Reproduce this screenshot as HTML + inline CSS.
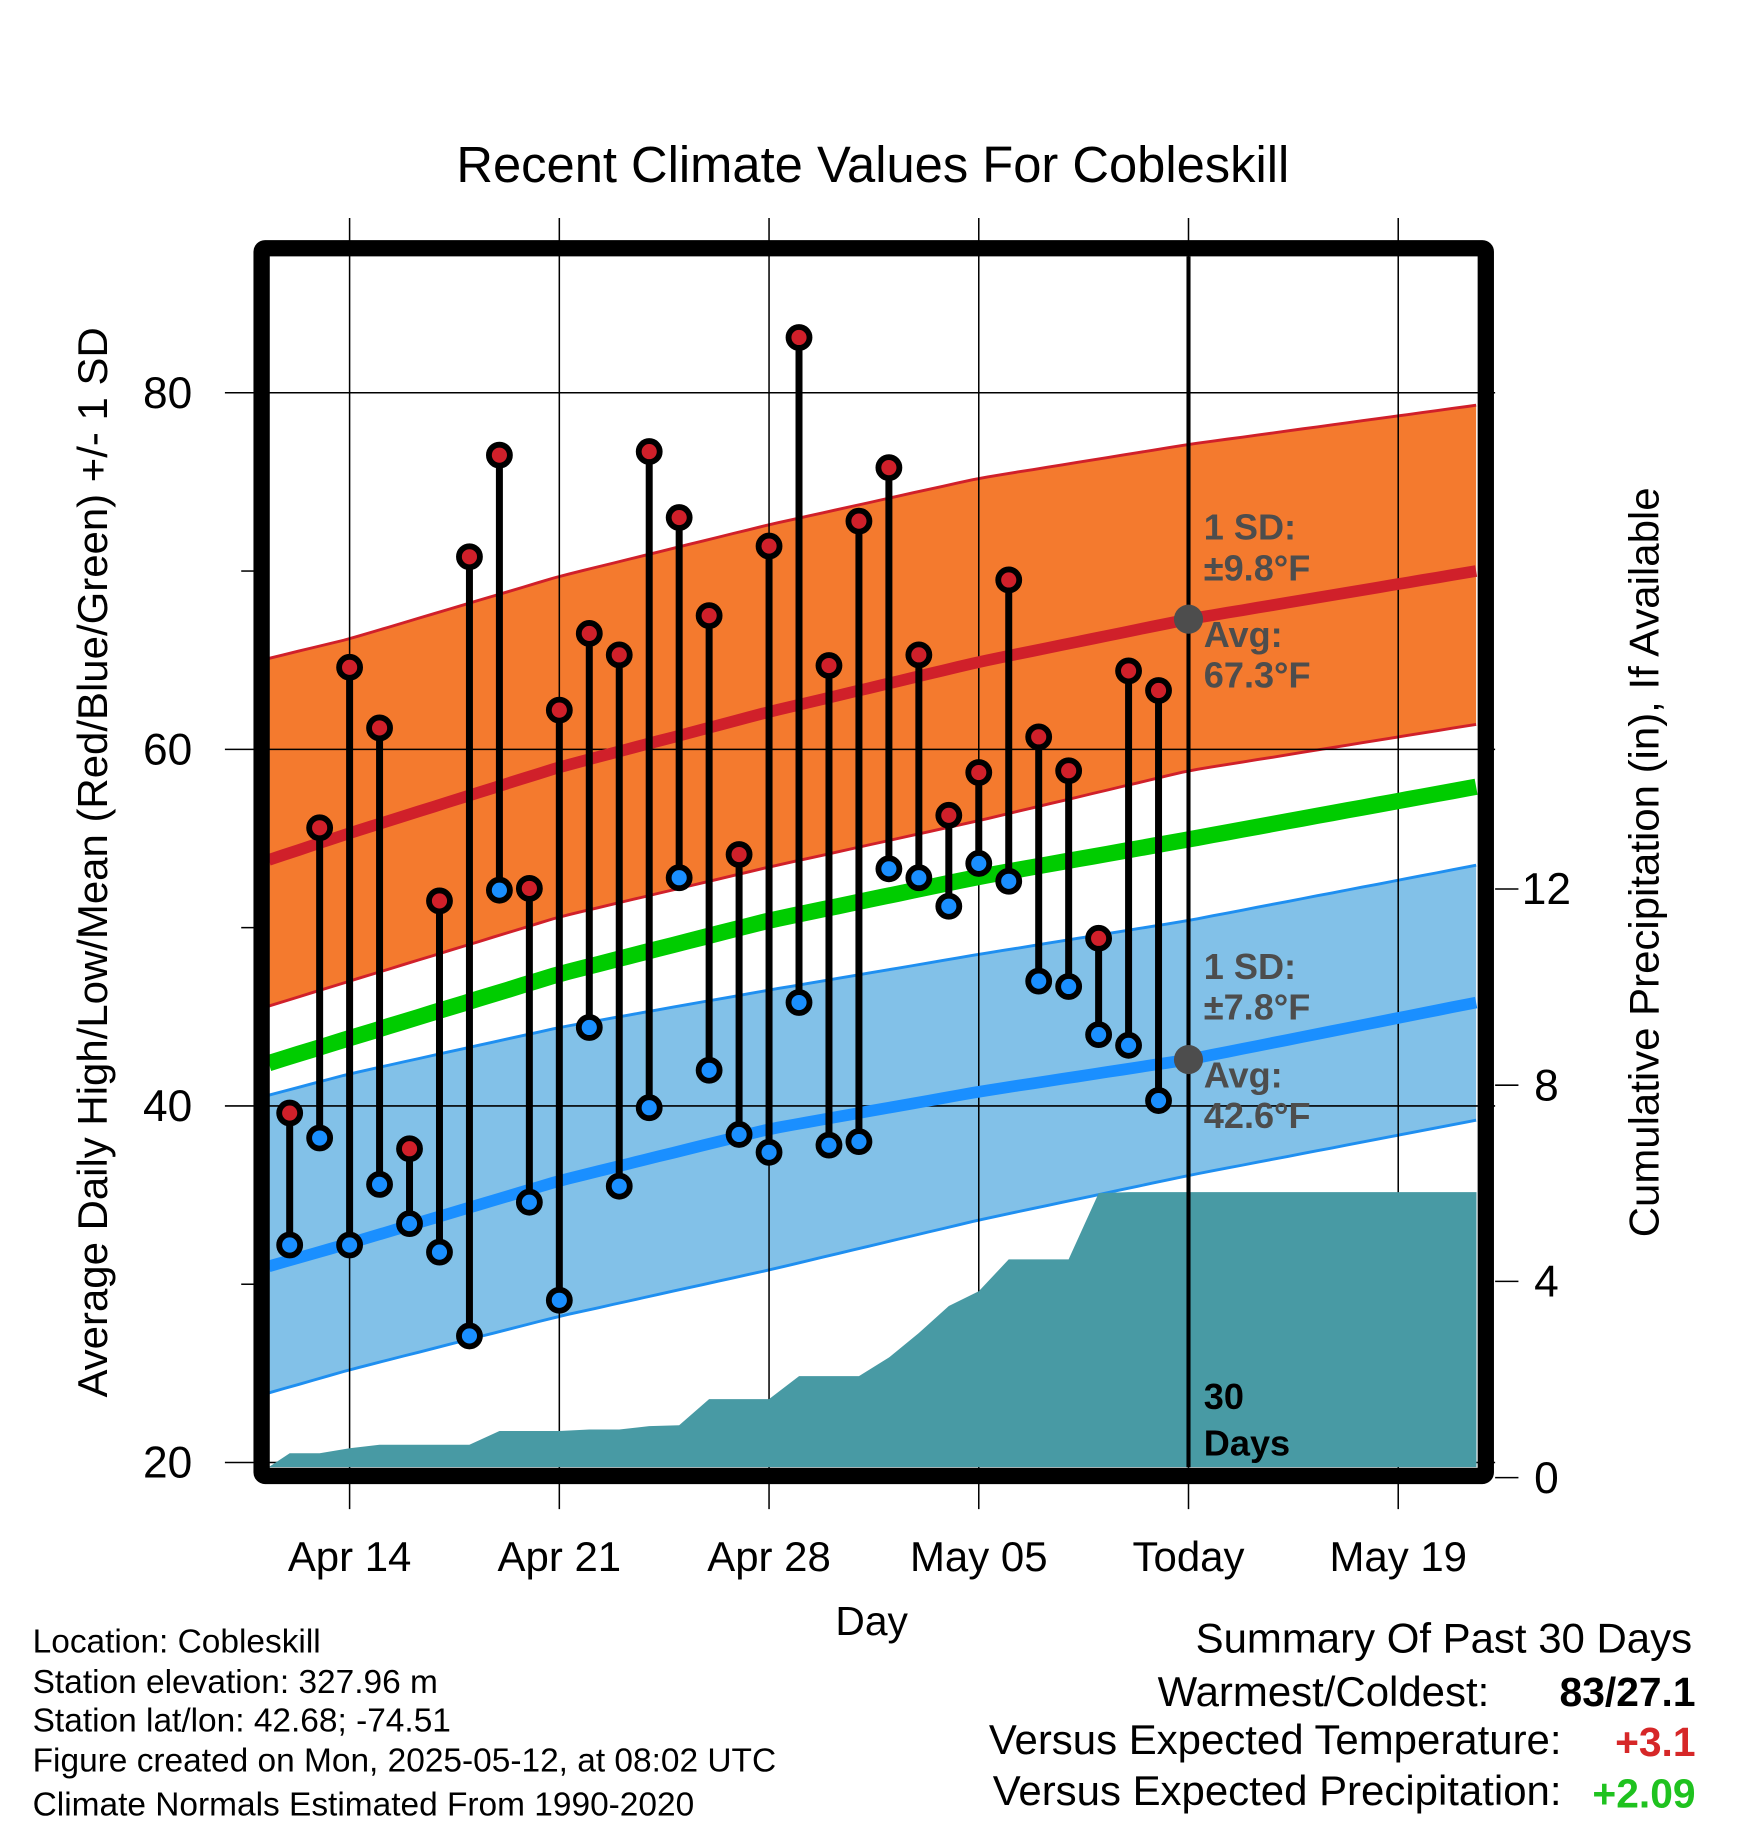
<!DOCTYPE html>
<html><head><meta charset="utf-8"><style>
html,body{margin:0;padding:0;background:#fff;}
svg{display:block;font-family:"Liberation Sans",Arial,sans-serif;}
</style></head><body>
<svg id="chart" width="1748" height="1828" viewBox="0 0 1500 1568.6" xmlns="http://www.w3.org/2000/svg">
<text x="749" y="156" font-size="43.5" text-anchor="middle">Recent Climate Values For Cobleskill</text>
<g id="bands"></g>
<g id="grid"></g>
<g id="precip"></g>
<g id="lines"></g>
<g id="stems"></g>
<g id="annot"></g>
<g id="axes"></g>
<text transform="translate(92,740) rotate(-90)" font-size="36" text-anchor="middle">Average Daily High/Low/Mean (Red/Blue/Green) +/- 1 SD</text>
<text transform="translate(1423,740) rotate(-90)" font-size="36" text-anchor="middle">Cumulative Precipitation (in), If Available</text>
<text x="748" y="1403" font-size="35" text-anchor="middle">Day</text>
<g font-size="28.7">
<text x="28" y="1418">Location: Cobleskill</text>
<text x="28" y="1453">Station elevation: 327.96 m</text>
<text x="28" y="1486">Station lat/lon: 42.68; -74.51</text>
<text x="28" y="1520">Figure created on Mon, 2025-05-12, at 08:02 UTC</text>
<text x="28" y="1558">Climate Normals Estimated From 1990-2020</text>
</g>
<g font-size="36">
<text x="1452" y="1418" text-anchor="end">Summary Of Past 30 Days</text>
<text x="1278" y="1464" text-anchor="end">Warmest/Coldest:</text>
<text x="1455" y="1464" text-anchor="end" font-weight="bold" font-size="35">83/27.1</text>
<text x="1340" y="1505" text-anchor="end">Versus Expected Temperature:</text>
<text x="1455" y="1507" text-anchor="end" font-weight="bold" font-size="35" fill="#d62728">+3.1</text>
<text x="1340" y="1549" text-anchor="end">Versus Expected Precipitation:</text>
<text x="1455" y="1551" text-anchor="end" font-weight="bold" font-size="35" fill="#1fc21f">+2.09</text>
</g>
</svg>
<script>
// observed data, day 0 = Apr 12
const days = ["Apr12","Apr13","Apr14","Apr15","Apr16","Apr17","Apr18","Apr19","Apr20","Apr21","Apr22","Apr23","Apr24","Apr25","Apr26","Apr27","Apr28","Apr29","Apr30","May01","May02","May03","May04","May05","May06","May07","May08","May09","May10","May11"];
const highs = [39.6,55.6,64.6,61.2,37.6,51.5,70.8,76.5,52.2,62.2,66.5,65.3,76.7,73.0,67.5,54.1,71.4,83.1,64.7,72.8,75.8,65.3,56.3,58.7,69.5,60.7,58.8,49.4,64.4,63.3];
const lows = [32.2,38.2,32.2,35.6,33.4,31.8,27.1,52.1,34.6,29.1,44.4,35.5,39.9,52.8,42.0,38.4,37.4,45.8,37.8,38.0,53.3,52.8,51.2,53.6,52.6,47.0,46.7,44.0,43.4,40.3];
const precip = [0.5,0.5,0.6,0.67,0.67,0.67,0.67,0.95,0.95,0.95,0.98,0.98,1.05,1.07,1.6,1.6,1.6,2.07,2.07,2.07,2.45,2.95,3.5,3.8,4.45,4.45,4.45,5.8,5.82,5.82];
// normals, day offset relative to Apr 12
const normDays = [-0.7,2,9,16,23,30,39.6];
const normHigh = [53.8,55.3,59.0,62.1,64.9,67.3,70.0];
const highUpper = [65.1,66.2,69.7,72.6,75.2,77.1,79.3];
const highLower = [45.6,47.0,50.6,53.4,56.0,58.8,61.4];
const normLow = [31.0,32.3,35.8,38.7,40.8,42.6,45.8];
const lowUpper = [40.6,41.8,44.4,46.5,48.5,50.4,53.5];
const lowLower = [23.9,25.2,28.2,30.8,33.6,36.1,39.2];
const yTicks = [20,40,60,80];
const yMinor = [30,50,70];
const y2Ticks = [0,4,8,12];
const xTickDays = [2,9,16,23,30,37];
const xTickLabels = ["Apr 14","Apr 21","Apr 28","May 05","Today","May 19"];

const NS="http://www.w3.org/2000/svg";
const X0=231,X1=1267,Y0=220,Y1=1259;
const xS=d=>300+(d-2)*25.71;
const yS=t=>1255-(t-20)*15.3;
const pS=p=>1268-p*42.1;
function mk(tag,attrs,parent){const e=document.createElementNS(NS,tag);for(const k in attrs)e.setAttribute(k,attrs[k]);document.getElementById(parent).appendChild(e);return e;}
function interp(arr,d){for(let i=0;i<normDays.length-1;i++){if(d<=normDays[i+1]){const f=(d-normDays[i])/(normDays[i+1]-normDays[i]);return arr[i]+f*(arr[i+1]-arr[i]);}}return arr[arr.length-1];}
const dEnd=normDays[normDays.length-1];
const samp=[];for(let d=normDays[0];d<dEnd;d+=0.5)samp.push(d);samp.push(dEnd);
function path(fn){return samp.map((d,i)=>(i?'L':'M')+xS(d).toFixed(1)+','+yS(fn(d)).toFixed(1)).join('');}
function band(up,lo){const u=samp.map(d=>xS(d).toFixed(1)+','+yS(interp(up,d)).toFixed(1));const l=samp.slice().reverse().map(d=>xS(d).toFixed(1)+','+yS(interp(lo,d)).toFixed(1));return 'M'+u.join('L')+'L'+l.join('L')+'Z';}
let e=mk('path',{d:band(highUpper,highLower),fill:'#f47a2e'},'bands');

e=mk('path',{d:band(lowUpper,lowLower),fill:'#82c1e8'},'bands');

[[highUpper,'#d0202a'],[highLower,'#d0202a'],[lowUpper,'#1f8ff0'],[lowLower,'#1f8ff0']].forEach(b=>{
 const el=mk('path',{d:path(d=>interp(b[0],d)),fill:'none',stroke:b[1],'stroke-width':2.5},'bands');
 
 
});
yTicks.forEach(t=>{const l=mk('line',{x1:193,x2:1283,y1:yS(t),y2:yS(t),stroke:'#000','stroke-width':1.3},'grid');
 
 const tx=mk('text',{x:165,y:yS(t)+13,'font-size':38,'text-anchor':'end'},'axes');tx.textContent=t;
 });
yMinor.forEach(t=>{const l=mk('line',{x1:207,x2:220,y1:yS(t),y2:yS(t),stroke:'#000','stroke-width':1.3},'axes');
 });
xTickDays.forEach((d,i)=>{const l=mk('line',{x1:xS(d),x2:xS(d),y1:187,y2:1295,stroke:'#000','stroke-width':1.3},'grid');
 
 const tx=mk('text',{x:xS(d),y:1348,'font-size':36,'text-anchor':'middle'},'axes');tx.textContent=xTickLabels[i];
 });
y2Ticks.forEach(p=>{const l=mk('line',{x1:1283,x2:1303,y1:pS(p),y2:pS(p),stroke:'#000','stroke-width':1.3},'axes');
 
 const tx=mk('text',{x:1327,y:pS(p)+13,'font-size':38,'text-anchor':'middle'},'axes');tx.textContent=p;
 });
let pd='M'+xS(-0.7)+','+Y1;
precip.forEach((p,i)=>{pd+='L'+xS(i).toFixed(1)+','+Math.min(Y1,pS(p)).toFixed(1);});
pd+='L'+X1+','+pS(precip[precip.length-1]).toFixed(1)+'L'+X1+','+Y1+'Z';
e=mk('path',{d:pd,fill:'#489aa4'},'precip');

e=mk('path',{d:path(d=>interp(normHigh,d)),fill:'none',stroke:'#d0202a','stroke-width':10},'lines');

e=mk('path',{d:path(d=>interp(normLow,d)),fill:'none',stroke:'#1a8fff','stroke-width':10},'lines');

e=mk('path',{d:path(d=>(interp(normHigh,d)+interp(normLow,d))/2),fill:'none',stroke:'#00cc00','stroke-width':14},'lines');

e=mk('line',{x1:xS(30),x2:xS(30),y1:Y0,y2:Y1,stroke:'#000','stroke-width':3.5},'lines');

highs.forEach((h,i)=>{const x=xS(i);
 const s=mk('line',{x1:x,x2:x,y1:yS(h),y2:yS(lows[i]),stroke:'#000','stroke-width':6},'stems');
 
 [[h,'#d0202a','high-marker'],[lows[i],'#1a8fff','low-marker']].forEach(m=>{
  const c=mk('circle',{cx:x,cy:yS(m[0]),r:9,fill:m[1],stroke:'#000','stroke-width':5},'stems');
  });
});
const tx=xS(30);
[[interp(normHigh,30),'today-avg-high-dot'],[interp(normLow,30),'today-avg-low-dot']].forEach(a=>{
 const c=mk('circle',{cx:tx,cy:yS(a[0]),r:12.5,fill:'#4d4d4d'},'annot');
 });
function lbl(t,y,fill){const el=mk('text',{x:1033,y:y,'font-size':31,'font-weight':'bold',fill:fill},'annot');el.innerHTML=t;
 }
lbl('1 SD:',463,'#4d4d4d');lbl('±9.8°F',498,'#4d4d4d');lbl('Avg:',555,'#4d4d4d');lbl('67.3°F',590,'#4d4d4d');
lbl('1 SD:',840,'#4d4d4d');lbl('±7.8°F',875,'#4d4d4d');lbl('Avg:',933,'#4d4d4d');lbl('42.6°F',968,'#4d4d4d');
lbl('30',1209,'#000');lbl('Days',1249,'#000');
e=mk('rect',{x:224.5,y:213,width:1050.5,height:1053.5,fill:'none',stroke:'#000','stroke-width':14,rx:3},'axes');

</script>
</body></html>
